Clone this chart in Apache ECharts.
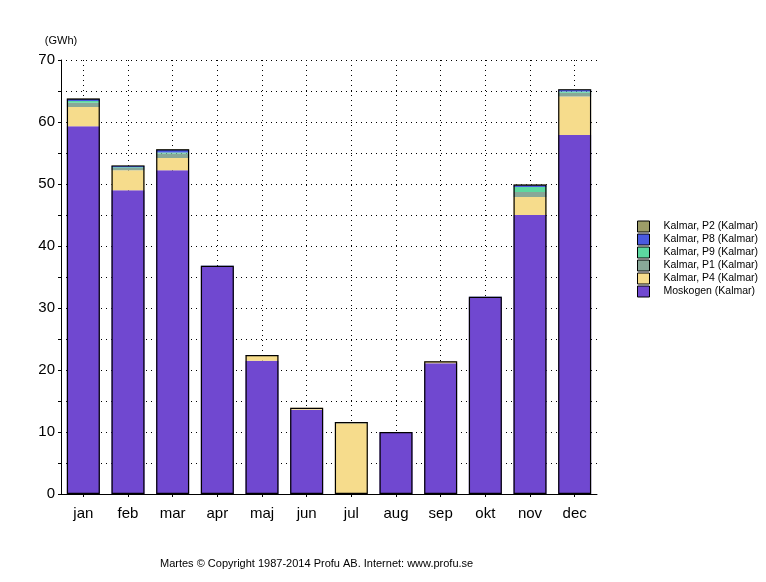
<!DOCTYPE html>
<html>
<head>
<meta charset="utf-8">
<script src="https://cdn.jsdelivr.net/npm/echarts@6/dist/echarts.min.js"></script>
<style>html,body{margin:0;padding:0;background:#fff}#c{width:766px;height:582px}</style>
</head>
<body>
<div id="c"></div>
<script>
const categories = ['jan','feb','mar','apr','maj','jun','jul','aug','sep','okt','nov','dec'];
const moskogen = [59.3, 49.0, 52.2, 36.6, 21.5, 13.6, 0, 10.0, 21.1, 31.6, 45.0, 57.9];
const p4       = [3.1, 3.2, 2.0, 0.1, 0.8, 0.3, 11.4, 0, 0.3, 0.1, 2.9, 6.2];
const p1       = [0.7, 0.4, 0.7, 0, 0, 0, 0.2, 0, 0, 0, 0.8, 0.6];
const p9       = [0.3, 0.1, 0.2, 0, 0, 0, 0, 0, 0, 0, 0.8, 0.2];
const p8       = [0.3, 0.2, 0.4, 0.1, 0.1, 0, 0, 0, 0, 0.1, 0.3, 0.3];
const p2       = [0.1, 0.1, 0.1, 0, 0, 0, 0, 0, 0, 0, 0.1, 0.1];
const yTicks = [0, 10, 20, 30, 40, 50, 60, 70];

const seriesDefs = [
  {name: 'Moskogen (Kalmar)', data: moskogen, color: '#7048d0'},
  {name: 'Kalmar, P4 (Kalmar)', data: p4, color: '#f6dc8c'},
  {name: 'Kalmar, P1 (Kalmar)', data: p1, color: '#88a898'},
  {name: 'Kalmar, P9 (Kalmar)', data: p9, color: '#5cd8a0'},
  {name: 'Kalmar, P8 (Kalmar)', data: p8, color: '#4a5ae0'},
  {name: 'Kalmar, P2 (Kalmar)', data: p2, color: '#9c9c68'}
];
const totals = categories.map((_, i) => seriesDefs.reduce((s, d) => s + d.data[i], 0));
const font = 'Liberation Sans, Arial, sans-serif';

const series = seriesDefs.map(d => ({
  name: d.name, type: 'bar', stack: 'a', data: d.data,
  itemStyle: {color: d.color}, barWidth: 33, barGap: '-100%'
}));
series.push({
  name: 'outline', type: 'bar', data: totals, barWidth: 33, barGap: '-100%', z: 5,
  itemStyle: {color: 'rgba(0,0,0,0)', borderColor: '#000', borderWidth: 1.2},
  silent: true
});

const chart = echarts.init(document.getElementById('c'), null, {renderer: 'canvas'});
chart.setOption({
  animation: false,
  backgroundColor: '#fff',
  grid: {left: 61, right: 169, top: 60, bottom: 88, containLabel: false},
  legend: {
    orient: 'vertical', left: 637, top: 220, padding: 0,
    itemWidth: 12, itemHeight: 11, itemGap: 0,
    data: ['Kalmar, P2 (Kalmar)','Kalmar, P8 (Kalmar)','Kalmar, P9 (Kalmar)','Kalmar, P1 (Kalmar)','Kalmar, P4 (Kalmar)','Moskogen (Kalmar)'],
    icon: 'rect',
    itemStyle: {borderColor: '#000', borderWidth: 1},
    textStyle: {fontFamily: font, fontSize: 10.5, lineHeight: 13, color: '#000', padding: [0,0,0,9]}
  },
  xAxis: {
    type: 'category', data: categories,
    axisLine: {lineStyle: {color: '#000', width: 1}},
    axisTick: {show: true, alignWithLabel: true, length: 3, lineStyle: {color: '#000'}},
    axisLabel: {fontFamily: font, fontSize: 15, color: '#000', margin: 12},
    splitLine: {show: true, alignWithLabel: true, lineStyle: {color: '#000', type: [1, 4], width: 1}}
  },
  yAxis: {
    type: 'value', min: 0, max: 70, interval: 10,
    name: '(GWh)', nameLocation: 'end', nameGap: 14,
    nameTextStyle: {fontFamily: font, fontSize: 11, color: '#000', align: 'center', padding: [0, 0, 0, 0]},
    axisLine: {show: true, lineStyle: {color: '#000', width: 1}},
    axisTick: {show: true, length: 3, lineStyle: {color: '#000'}},
    minorTick: {show: true, splitNumber: 2, length: 3, lineStyle: {color: '#000'}},
    axisLabel: {fontFamily: font, fontSize: 15, color: '#000', margin: 6,
      formatter: v => yTicks.includes(v) ? String(v) : ''},
    splitLine: {show: true, lineStyle: {color: '#000', type: [1, 4], width: 1}},
    minorSplitLine: {show: true, lineStyle: {color: '#000', type: [1, 4], width: 1}}
  },
  graphic: [{
    type: 'text', left: 160, top: 558,
    style: {text: 'Martes \u00a9 Copyright 1987-2014 Profu AB. Internet: www.profu.se', fontFamily: font, fontSize: 11, fill: '#000'}
  }],
  series: series
});
</script>
</body>
</html>
